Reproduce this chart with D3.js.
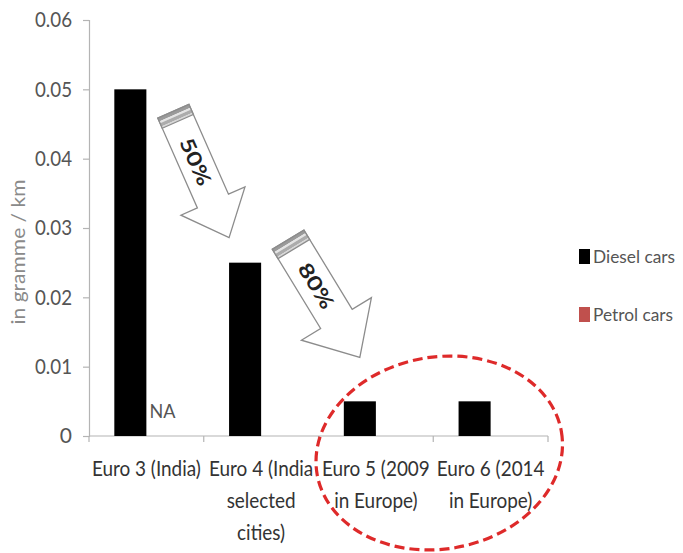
<!DOCTYPE html>
<html>
<head>
<meta charset="utf-8">
<script src="https://cdn.jsdelivr.net/npm/d3@7"></script>
<style>
  html, body { margin: 0; padding: 0; background: #fff; }
  svg { display: block; }
  text { font-family: Lato, "Liberation Sans", sans-serif; }
</style>
</head>
<body>
<svg id="chart" width="683" height="553"></svg>
<script>
// Particulate matter limits by emission standard (g/km)
const categories = ["Euro 3 (India)", "Euro 4 (India selected cities)", "Euro 5 (2009 in Europe)", "Euro 6 (2014 in Europe)"];
const categoryLines = [
  ["Euro 3 (India)"],
  ["Euro 4 (India", "selected", "cities)"],
  ["Euro 5 (2009", "in Europe)"],
  ["Euro 6 (2014", "in Europe)"]
];
const seriesNames = ["Diesel cars", "Petrol cars"];
const dieselValues = [0.05, 0.025, 0.005, 0.005];
const petrolValues = [null, 0, 0, 0];   // null = not applicable ("NA")
const yTicks = [0, 0.01, 0.02, 0.03, 0.04, 0.05, 0.06];
const yTickLabels = ["0", "0.01", "0.02", "0.03", "0.04", "0.05", "0.06"];
const reductionLabels = ["50%", "80%"];
const seriesColors = ["#000000", "#c0504d"];

const svg = d3.select("#chart");
const axisColor = "#b4b4b4";
const FONT = "Lato, 'Liberation Sans', sans-serif";

// Narrow a group of labels: the first label is fitted to `refWidth`
// and the same horizontal factor is applied to the rest of the group.
function squeeze(sel, refWidth) {
  const nodes = sel.nodes();
  if (!nodes.length) return;
  const k = refWidth / nodes[0].getComputedTextLength();
  nodes.forEach(n => {
    const len = n.getComputedTextLength();
    n.setAttribute("textLength", (len * k).toFixed(2));
    n.setAttribute("lengthAdjust", "spacingAndGlyphs");
  });
}

const x = d3.scaleBand().domain(categories).range([89, 548]).paddingInner(0).paddingOuter(0);
const xSub = d3.scaleBand().domain(seriesNames).range([0, x.bandwidth()]).paddingInner(0).paddingOuter(0.79);
const y = d3.scaleLinear().domain([0, 0.06]).range([436, 20]);

// ---- Y axis ----
const yAxis = d3.axisLeft(y).tickValues(yTicks).tickFormat((d, i) => yTickLabels[i]).tickSize(6).tickPadding(11);
const gy = svg.append("g").attr("transform", "translate(89,0)").call(yAxis);
gy.select(".domain").attr("stroke", axisColor).attr("stroke-width", 1.2);
gy.selectAll(".tick line").attr("stroke", axisColor).attr("stroke-width", 1.2);
gy.selectAll(".tick text").attr("fill", "#555").attr("font-size", 21).attr("font-family", FONT);
squeeze(gy.selectAll(".tick text").filter((d, i) => i > 0), 37);

// ---- X axis ----
const boundaries = categories.map(c => x(c)).concat([x.range()[1]]);
svg.append("line").attr("x1", 89).attr("x2", 548).attr("y1", y(0)).attr("y2", y(0))
  .attr("stroke", axisColor).attr("stroke-width", 1.2);
svg.selectAll(".xtick").data(boundaries).join("line").attr("class", "xtick")
  .attr("x1", d => d).attr("x2", d => d).attr("y1", y(0)).attr("y2", y(0) + 6)
  .attr("stroke", axisColor).attr("stroke-width", 1.2);

// Category labels, one text per wrapped line
const catLines = [];
categories.forEach((c, i) => categoryLines[i].forEach((t, j) => catLines.push({ cat: c, text: t, line: j })));
const catText = svg.selectAll(".cat").data(catLines).join("text").attr("class", "cat")
  .attr("x", d => x(d.cat) + x.bandwidth() / 2)
  .attr("y", d => 476 + d.line * 32)
  .attr("text-anchor", "middle").attr("fill", "#333").attr("font-size", 21)
  .text(d => d.text);
squeeze(catText, 109);

// Axis title
const title = svg.append("text").attr("transform", "translate(25,252) rotate(-90)")
  .attr("text-anchor", "middle").attr("fill", "#8a8a8a").attr("font-size", 19)
  .text("in gramme / km");
squeeze(title, 145);

// ---- Bars ----
const barData = [];
categories.forEach((c, i) => {
  barData.push({ cat: c, series: seriesNames[0], value: dieselValues[i], color: seriesColors[0] });
  barData.push({ cat: c, series: seriesNames[1], value: petrolValues[i], color: seriesColors[1] });
});
svg.selectAll(".bar").data(barData.filter(d => d.value !== null && d.value > 0)).join("rect").attr("class", "bar")
  .attr("x", d => x(d.cat) + xSub(d.series))
  .attr("width", xSub.bandwidth())
  .attr("y", d => y(d.value))
  .attr("height", d => y(0) - y(d.value))
  .attr("fill", d => d.color);

// "NA" where a value is not applicable
const na = svg.selectAll(".na").data(barData.filter(d => d.value === null)).join("text").attr("class", "na")
  .attr("x", d => x(d.cat) + xSub(d.series) + xSub.bandwidth() / 2)
  .attr("y", y(0) - 18)
  .attr("text-anchor", "middle").attr("fill", "#555").attr("font-size", 20)
  .text("NA");
squeeze(na, 26);

// ---- Reduction arrows between consecutive standards ----
function blockArrow(tail, tip, shaftW, headW, headLen, label, labelPos) {
  const dx = tip[0] - tail[0], dy = tip[1] - tail[1];
  const L = Math.hypot(dx, dy);
  const ang = Math.atan2(dy, dx) * 180 / Math.PI;
  const g = svg.append("g").attr("transform", `translate(${tail[0]},${tail[1]}) rotate(${ang})`);
  const s = shaftW / 2, h = headW / 2, b = L - headLen;
  const pts = [[0, -s], [b, -s], [b, -h], [L, 0], [b, h], [b, s], [0, s]];
  g.append("path").attr("d", "M" + pts.map(p => p.join(",")).join("L") + "Z")
    .attr("fill", "#fff").attr("stroke", "#8c8c8c").attr("stroke-width", 1.3).attr("stroke-linejoin", "miter");
  // bevelled tail end
  const bands = [[0, 3.5, "#9a9a9a"], [3.5, 5.5, "#e4e4e4"], [5.5, 9, "#acacac"], [9, 11, "#d6d6d6"]];
  bands.forEach(([a, e, c]) => g.append("rect").attr("x", a).attr("width", e - a)
    .attr("y", -s).attr("height", shaftW).attr("fill", c));
  g.append("rect").attr("x", 0).attr("width", 11).attr("y", -s).attr("height", shaftW)
    .attr("fill", "none").attr("stroke", "#8c8c8c").attr("stroke-width", 1.3);
  const t = g.append("text").attr("x", labelPos).attr("y", 0).attr("dy", "0.36em")
    .attr("text-anchor", "middle").attr("font-weight", "bold").attr("font-size", 20)
    .attr("fill", "#222").text(label);
  squeeze(t, 50);
}

const bw = xSub.bandwidth();
const dX = c => x(c) + xSub(seriesNames[0]);
blockArrow([dX(categories[0]) + bw + 27, y(dieselValues[0]) + 22],
           [dX(categories[1]), y(dieselValues[1]) - 25], 34, 70, 40, reductionLabels[0], 55);
blockArrow([dX(categories[1]) + bw + 27, y(dieselValues[1]) - 23],
           [dX(categories[2]) + 16, y(dieselValues[2]) - 44], 37, 82, 45, reductionLabels[1], 54);

// ---- Highlight around the European standards ----
svg.append("ellipse")
  .attr("transform", `translate(${x(categories[3]) + 6},${y(0) + 17}) rotate(-10)`)
  .attr("rx", 124).attr("ry", 96)
  .attr("fill", "none").attr("stroke", "#de2a2a").attr("stroke-width", 3.2)
  .attr("stroke-dasharray", "10,5");

// ---- Legend ----
const leg = svg.selectAll(".leg").data(seriesNames).join("g").attr("class", "leg")
  .attr("transform", (d, i) => `translate(579,${249 + i * 58})`);
leg.append("rect").attr("width", 11).attr("height", 15).attr("fill", (d, i) => seriesColors[i]);
const legText = leg.append("text").attr("x", 14).attr("y", 14).attr("fill", "#555").attr("font-size", 18).text(d => d);
squeeze(legText, 82);
</script>
</body>
</html>
